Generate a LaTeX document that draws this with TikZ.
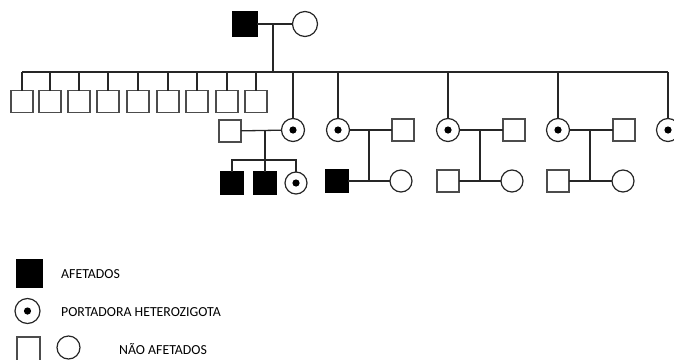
\documentclass[tikz,border=0pt]{standalone}
\usepackage{fontspec}
\setmainfont{Carlito}
\begin{document}
\begin{tikzpicture}[x=1pt,y=-1pt,
  ln/.style={line width=1.3pt, draw=black!85},
  male/.style={rectangle, draw=black!70, line width=1.2pt, minimum size=22pt, inner sep=0pt, outer sep=0pt},
  aff/.style={male, fill=black, draw=black},
  fem/.style={circle, draw=black!85, line width=1.2pt, minimum size=23pt, inner sep=0pt, outer sep=0pt},
  carrier/.style={fem, path picture={\fill (path picture bounding box.center) circle (3.6pt);}},
  lbl/.style={anchor=west, inner sep=0pt, font=\fontsize{13.8}{16}\selectfont}]
\useasboundingbox (0,0) rectangle (674,359);
\clip (0,0) rectangle (674,359);
% Generation I
\node[aff, minimum size=24pt] (f1) at (245,24) {};
\node[fem, minimum size=25pt] (m1) at (305,24) {};
\draw[ln] (f1) -- (m1);
\coordinate (c1) at (273,24);
\coordinate (s1) at (273,72);
\draw[ln] (c1) -- (s1);
\coordinate (sL) at (22,72);
\coordinate (sR) at (668,72);
\draw[ln] (sL) -- (sR);
% Generation II sons
\foreach \i/\x in {1/22,2/50,3/79,4/108,5/138,6/168,7/197,8/227,9/256}{
  \node[male] (b\i) at (\x,101.5) {};
  \draw[ln] (b\i.north) -- (b\i.north |- sL);
}
% Generation II daughters (carriers) and spouses
\foreach \i/\x in {1/293,2/338,3/448,4/558,5/668}{
  \node[carrier] (d\i) at (\x,130) {};
  \draw[ln] (d\i.north) -- (d\i.north |- sL);
}
\node[male] (h1) at (230,131) {};
\node[male] (h2) at (403,130) {};
\node[male] (h3) at (514,130) {};
\node[male] (h4) at (624,130) {};
\draw[ln] (h1) -- (d1);
\draw[ln] (d2) -- (h2);
\draw[ln] (d3) -- (h3);
\draw[ln] (d4) -- (h4);
% Family 1 children
\coordinate (p1) at (265,130);
\coordinate (q1) at (265,160);
\draw[ln] (p1) -- (q1);
\node[aff] (g1) at (232,183) {};
\node[aff] (g2) at (265,183) {};
\node[carrier, minimum size=22pt] (g3) at (296,183) {};
\draw[ln] (g1.north) |- (q1) -| (g3.north);
\draw[ln] (q1) -- (g2.north);
% Family 2
\coordinate (p2) at (369,130);
\node[aff] (k2) at (337,181) {};
\node[fem, minimum size=22pt] (w2) at (401,181) {};
\draw[ln] (k2) -- (w2);
\draw[ln] (p2) -- (p2 |- k2);
% Family 3
\coordinate (p3) at (480,130);
\node[male] (k3) at (448,181) {};
\node[fem, minimum size=22pt] (w3) at (512,181) {};
\draw[ln] (k3) -- (w3);
\draw[ln] (p3) -- (p3 |- k3);
% Family 4
\coordinate (p4) at (590,130);
\node[male] (k4) at (558,181) {};
\node[fem, minimum size=22pt] (w4) at (623,181) {};
\draw[ln] (k4) -- (w4);
\draw[ln] (p4) -- (p4 |- k4);
% Legend
\node[aff, minimum width=25pt, minimum height=27pt] (la) at (29.5,273.5) {};
\node[lbl] (ta) at (61,274) {AFETADOS};
\node[carrier, minimum size=25pt] (lc) at (27.5,311) {};
\node[lbl] (tc) at (61,312) {PORTADORA HETEROZIGOTA};
\node[male, minimum width=23pt, minimum height=25pt] (lm) at (28.5,349.5) {};
\node[fem, minimum size=23pt] (lf) at (68.5,347.5) {};
\node[lbl] (tn) at (119,349) {NÃO AFETADOS};
\end{tikzpicture}
\end{document}
